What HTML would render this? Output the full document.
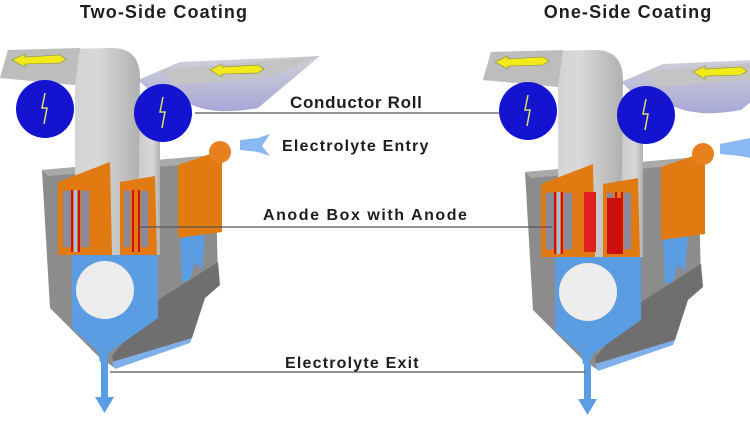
<!DOCTYPE html>
<html><head><meta charset="utf-8"><style>
html,body{margin:0;padding:0;background:#fff;width:750px;height:422px;overflow:hidden}
text{font-family:"Liberation Sans",sans-serif;font-weight:bold;fill:#1e1e1e}
</style></head><body>
<svg width="750" height="422" viewBox="0 0 750 422" xmlns="http://www.w3.org/2000/svg">
<defs>
<linearGradient id="strip" x1="0" x2="1"><stop offset="0" stop-color="#c8c8c8"/><stop offset="0.7" stop-color="#d8d8d8"/><stop offset="1" stop-color="#b0b0b0"/></linearGradient>
<linearGradient id="lav" x1="0" y1="0" x2="0" y2="1"><stop offset="0" stop-color="#d0d0d8"/><stop offset="1" stop-color="#a8a8d8"/></linearGradient>
<g id="app">
  <path d="M42,170 L215,155 L218,280 L205,292 L190,340 L115,368 L100,358 L50,308 Z" fill="#8c8c8c"/>
  <path d="M42,170 L215,155 L215,162 L48,176 Z" fill="#a9a9a9"/>
  <path d="M158,300 L218,262 L220,285 L205,298 L192,338 L115,368 L112,356 Z" fill="#6f6f6f"/>
  <path d="M112,362 L192,338 L190,343 L115,369 Z" fill="#7fb0ea"/>
  <path d="M72,250 L158,250 L158,318 L110,352 L106,362 L100,362 L98,352 L72,328 Z" fill="#5b9de2"/>
  <path d="M180,235 L205,232 L202,270 L195,262 L190,280 L182,282 Z" fill="#5b9de2"/>
  <circle cx="105" cy="290" r="29" fill="#ececec"/>
  <path d="M138,80 L180,62 L320,56 L258,108 Q215,116 190,104 L160,100 Z" fill="url(#lav)"/>
  <path d="M160,70 L320,56 L265,78 L175,85 Z" fill="#c4c4c4"/>
  <rect x="135" y="95" width="25" height="160" fill="url(#strip)"/>
  <path d="M0,78 L8,50 L112,48 Q140,48 140,78 L138,255 L75,255 L75,85 L0,78 Z" fill="url(#strip)"/>
  <path d="M0,78 L8,50 L80,48 L75,85 Z" fill="#bdbdbd"/>
  <path d="M12,60 L25,54 L25,57 L60,55 L66,59 L60,63 L25,64 L25,67 Z" fill="#f2ea1a" stroke="#8a8a30" stroke-width="0.6"/>
  <path d="M210,70 L222,64 L222,67 L258,65 L264,69 L258,73 L222,74 L222,77 Z" fill="#f2ea1a" stroke="#8a8a30" stroke-width="0.6"/>
  <circle cx="45" cy="109" r="29" fill="#1414d0"/>
  <circle cx="163" cy="113" r="29" fill="#1414d0"/>
  <path d="M45,93 L42,108 L47,108 L44,124" stroke="#dde060" stroke-width="1.5" fill="none"/>
  <path d="M163,97 L160,112 L165,112 L162,128" stroke="#dde060" stroke-width="1.5" fill="none"/>
  <path d="M58,182 L110,162 L112,255 L58,255 Z" fill="#e27a12"/>
  <rect x="62" y="190" width="10" height="58" fill="#8a8a9a" stroke="#e27a12" stroke-width="1.5"/>
  <rect x="80" y="190" width="10" height="58" fill="#8a8a9a" stroke="#e27a12" stroke-width="1.5"/>
  <line x1="72" y1="190" x2="72" y2="252" stroke="#d01010" stroke-width="2"/>
  <line x1="79" y1="190" x2="79" y2="252" stroke="#d01010" stroke-width="2"/>
  <line x1="75.5" y1="190" x2="75.5" y2="252" stroke="#a0c0ee" stroke-width="3"/>
  <path d="M120,182 L155,176 L157,255 L120,255 Z" fill="#e27a12"/>
  <rect x="123" y="190" width="8" height="58" fill="#8a8a9a" stroke="#e27a12" stroke-width="1.5"/>
  <rect x="140" y="190" width="9" height="58" fill="#8a8a9a" stroke="#e27a12" stroke-width="1.5"/>
  <line x1="133" y1="190" x2="133" y2="252" stroke="#d01010" stroke-width="2"/>
  <line x1="139" y1="190" x2="139" y2="252" stroke="#d01010" stroke-width="2"/>
  <path d="M178,165 L222,150 L222,232 L178,238 Z" fill="#e27a12"/>
  <circle cx="220" cy="152" r="11" fill="#e8801e"/>
  <path d="M101,362 L108,362 L108,397 L114,397 L104.5,413 L95,397 L101,397 Z" fill="#5b9de2"/>
</g>
</defs>
<use href="#app"/>
<g transform="translate(483,2)"><use href="#app"/>
  <rect x="101" y="190" width="12" height="60" fill="#e02020"/>
  <rect x="124" y="196" width="14" height="56" fill="#cc1010"/>
</g>
<path d="M240,140 L258,138 L270,134 L262,146 L270,156 L258,152 L240,150 Z" fill="#8ab8f0"/>
<path d="M720,144 L740,140 L750,138 L750,158 L740,156 L720,154 Z" fill="#8ab8f0"/>
<text x="164" y="18" font-size="18" letter-spacing="1.1" text-anchor="middle">Two-Side Coating</text>
<text x="628" y="18" font-size="18" letter-spacing="1.1" text-anchor="middle">One-Side Coating</text>
<g stroke="#555" stroke-width="1.2">
<line x1="195" y1="113" x2="500" y2="113"/>
<line x1="138" y1="227" x2="552" y2="227"/>
<line x1="110" y1="372" x2="585" y2="372"/>
</g>
<text x="290" y="108" font-size="17" letter-spacing="0.7">Conductor Roll</text>
<text x="282" y="151" font-size="16" letter-spacing="1.2">Electrolyte Entry</text>
<text x="263" y="220" font-size="16" letter-spacing="1.55">Anode Box with Anode</text>
<text x="285" y="368" font-size="16" letter-spacing="1.2">Electrolyte Exit</text>
</svg>
</body></html>
